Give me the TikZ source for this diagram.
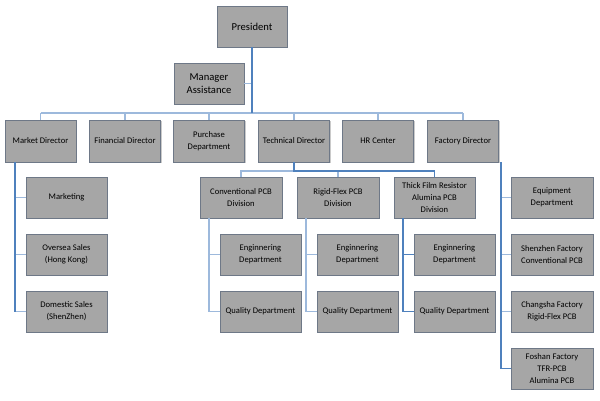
\documentclass[tikz,border=0pt]{standalone}
\usepackage{fontspec}
\setmainfont{Carlito}
\usetikzlibrary{shadows}
\definecolor{boxfill}{HTML}{A6A6A6}
\definecolor{boxline}{HTML}{6E7887}
\definecolor{darkln}{HTML}{4F81BD}
\definecolor{lightln}{HTML}{9DB9DC}
\tikzset{
  box/.style={draw=boxline, fill=boxfill, line width=0.8pt, align=center, inner sep=1pt,
    minimum height=41pt, font=\fontsize{8.6}{11.8}\selectfont,
    drop shadow={shadow xshift=1.2pt, shadow yshift=-1.2pt, fill=black!35, opacity=0.6}},
  bigbox/.style={box, font=\fontsize{10.6}{13.2}\selectfont},
  dk/.style={draw=darkln, line width=1.4pt},
  lt/.style={draw=lightln, line width=1.4pt},
}
\begin{document}
\begin{tikzpicture}[x=1pt,y=-1pt]
\useasboundingbox (0,0) rectangle (600,400);
% top
\node[bigbox, minimum width=70pt] (pres) at (252,26.5) {President};
\node[bigbox, minimum width=70pt] (mgr) at (209,83.5) {Manager\\Assistance};
% row 2
\node[box, minimum width=71pt, minimum height=42pt] (mkt) at (40.5,141) {Market Director};
\node[box, minimum width=71pt, minimum height=42pt] (fin) at (125,141) {Financial Director};
\node[box, minimum width=71pt, minimum height=42pt] (pur) at (209,141) {Purchase\\Department};
\node[box, minimum width=71pt, minimum height=42pt] (tec) at (294,141) {Technical Director};
\node[box, minimum width=71pt, minimum height=42pt] (hr) at (378,141) {HR Center};
\node[box, minimum width=71pt, minimum height=42pt] (fac) at (463,141) {Factory Director};
% market children
\node[box, minimum width=81pt] (mk1) at (66.5,197.5) {Marketing};
\node[box, minimum width=81pt] (mk2) at (66.5,254.5) {Oversea Sales\\(Hong Kong)};
\node[box, minimum width=81pt] (mk3) at (66.5,311.5) {Domestic Sales\\(ShenZhen)};
% divisions
\node[box, minimum width=82pt] (cv) at (241,197.5) {Conventional PCB\\Division};
\node[box, minimum width=82pt] (rf) at (338,197.5) {Rigid-Flex PCB\\Division};
\node[box, minimum width=81pt] (tf) at (434.5,197.5) {Thick Film Resistor\\Alumina PCB\\Division};
\node[box, minimum width=81pt] (cv1) at (260.5,254.5) {Enginnering\\Department};
\node[box, minimum width=81pt] (cv2) at (260.5,311.5) {Quality Department};
\node[box, minimum width=81pt] (rf1) at (357.5,254.5) {Enginnering\\Department};
\node[box, minimum width=81pt] (rf2) at (357.5,311.5) {Quality Department};
\node[box, minimum width=81pt] (tf1) at (454.5,254.5) {Enginnering\\Department};
\node[box, minimum width=81pt] (tf2) at (454.5,311.5) {Quality Department};
% factory children
\node[box, minimum width=82pt] (fc1) at (552,197.5) {Equipment\\Department};
\node[box, minimum width=82pt] (fc2) at (552,254.5) {Shenzhen Factory\\Conventional PCB};
\node[box, minimum width=82pt] (fc3) at (552,311.5) {Changsha Factory\\Rigid-Flex PCB};
\node[box, minimum width=82pt] (fc4) at (552,368.5) {Foshan Factory\\TFR-PCB\\Alumina PCB};
% coordinates
\coordinate (busy) at (0,113);
\coordinate (divy) at (0,171);
\coordinate (mkx) at (15,0);
\coordinate (cvx) at (209,0);
\coordinate (rfx) at (306,0);
\coordinate (tfx) at (403,0);
\coordinate (fcx) at (501,0);
% connectors
\draw[lt] (mgr.east) -- (mgr.east -| pres.south);
\draw[lt] (mkt.north |- busy) -- (fac.north |- busy);
\foreach \n in {mkt,fin,pur,tec,hr,fac} \draw[lt] (\n.north |- busy) -- (\n.north);
\draw[dk] (pres.south) -- (pres.south |- busy);
% market
\foreach \n in {mk1,mk2,mk3} \draw[lt] (mkx |- \n.west) -- (\n.west);
\draw[dk] (mkx |- mkt.south) -- (mkx |- mk3.west);
% technical
\draw[lt] (cv.north) -- (cv.north |- divy) -- (tec.south |- divy);
\draw[lt] (rf.north) -- (rf.north |- divy);
\draw[dk] (tec.south) -- (tec.south |- divy) -- (tf.north |- divy) -- (tf.north);
% division children
\draw[lt] (cvx |- cv.south) -- (cvx |- cv2.west) -- (cv2.west);
\draw[lt] (cvx |- cv1.west) -- (cv1.west);
\draw[lt] (rfx |- rf.south) -- (rfx |- rf2.west) -- (rf2.west);
\draw[lt] (rfx |- rf1.west) -- (rf1.west);
\draw[dk] (tfx |- tf.south) -- (tfx |- tf2.west) -- (tf2.west);
\draw[dk] (tfx |- tf1.west) -- (tf1.west);
% factory
\foreach \n in {fc1,fc2,fc3} \draw[lt] (fcx |- \n.west) -- (\n.west);
\draw[dk] (fcx |- fac.south) -- (fcx |- fc4.west) -- (fc4.west);
\end{tikzpicture}
\end{document}
